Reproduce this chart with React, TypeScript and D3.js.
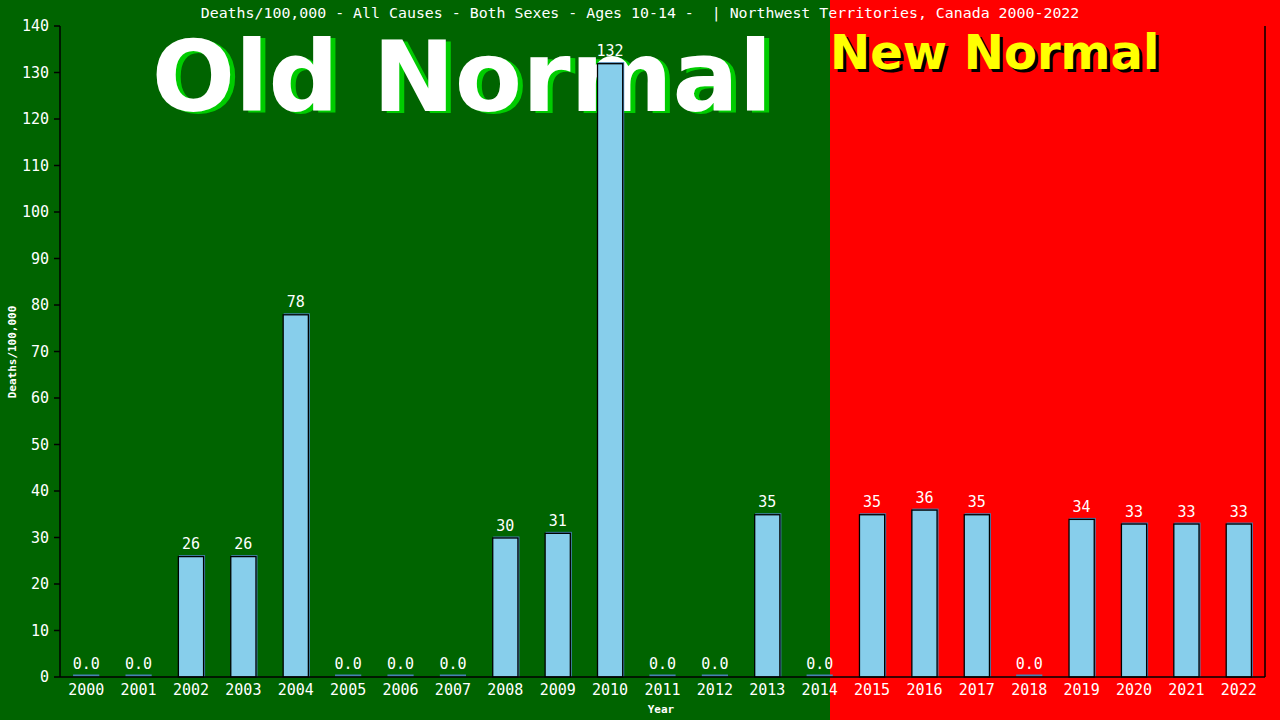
import * as d3 from "d3";

const years = [
  "2000", "2001", "2002", "2003", "2004", "2005", "2006", "2007", "2008", "2009", "2010", "2011",
  "2012", "2013", "2014", "2015", "2016", "2017", "2018", "2019", "2020", "2021", "2022",
];
const deaths = [0, 0, 26, 26, 78, 0, 0, 0, 30, 31, 132, 0, 0, 35, 0, 35, 36, 35, 0, 34, 33, 33, 33];
const yTicks = [0, 10, 20, 30, 40, 50, 60, 70, 80, 90, 100, 110, 120, 130, 140];

const W = 1280;
const H = 720;
const left = 60;
const right = 1265;
const top = 26;
const bottom = 677;
const split = 830;
const mono = "'DejaVu Sans Mono', monospace";
const sans = "'DejaVu Sans', sans-serif";

export default function App() {
  const x = d3.scaleBand<string>().domain(years).range([left, right]).paddingInner(0.5).paddingOuter(0.25);
  const y = d3.scaleLinear().domain([0, 140]).range([bottom, top]);
  const bw = x.bandwidth();

  return (
    <svg width={W} height={H} style={{ position: "absolute", left: 0, top: 0 }}>
      <rect x={0} y={0} width={split} height={H} fill="#006400" />
      <rect x={split} y={0} width={W - split} height={H} fill="#ff0000" />

      {/* big labels */}
      <text x={467} y={113} textAnchor="middle" fontFamily={sans} fontWeight="bold" fontSize={98} fill="#00cc00">
        Old Normal
      </text>
      <text x={462} y={111} textAnchor="middle" fontFamily={sans} fontWeight="bold" fontSize={98} fill="#ffffff">
        Old Normal
      </text>
      <text x={833} y={72} fontFamily={sans} fontWeight="bold" fontSize={48} fill="#000000">
        New Normal
      </text>
      <text x={830} y={69} fontFamily={sans} fontWeight="bold" fontSize={48} fill="#ffff00">
        New Normal
      </text>

      <text x={640} y={18} textAnchor="middle" fontFamily={mono} fontSize={14.9} fill="#ffffff" style={{ whiteSpace: "pre" }}>
        {"Deaths/100,000 - All Causes - Both Sexes - Ages 10-14 -  | Northwest Territories, Canada 2000-2022"}
      </text>

      {/* bars */}
      {years.map((yr, i) => {
        const v = deaths[i];
        const bx = x(yr) ?? 0;
        const cx = bx + bw / 2;
        if (v === 0) {
          return (
            <g key={yr}>
              <line x1={bx} x2={bx + bw} y1={bottom - 1.5} y2={bottom - 1.5} stroke="#4682b4" strokeWidth={2} />
              <text x={cx} y={bottom - 8} textAnchor="middle" fontFamily={mono} fontSize={15} fill="#ffffff">
                0.0
              </text>
            </g>
          );
        }
        const by = y(v);
        return (
          <g key={yr}>
            <rect x={bx + 1} y={by - 1} width={bw} height={bottom - by + 1} fill="#4682b4" />
            <rect x={bx + 0.5} y={by + 0.5} width={bw - 1} height={bottom - by - 0.5} fill="#87ceeb" stroke="#000000" strokeWidth={1.3} />
            <text x={cx} y={by - 7} textAnchor="middle" fontFamily={mono} fontSize={15} fill="#ffffff">
              {v}
            </text>
          </g>
        );
      })}

      {/* axes */}
      <line x1={left} x2={left} y1={top} y2={bottom} stroke="#000" strokeWidth={1.5} />
      <line x1={right} x2={right} y1={top} y2={bottom} stroke="#000" strokeWidth={1.5} />
      <line x1={left} x2={right} y1={bottom} y2={bottom} stroke="#000" strokeWidth={1.5} />
      {yTicks.map((t) => (
        <g key={t}>
          <line x1={left - 6} x2={left} y1={y(t)} y2={y(t)} stroke="#000" strokeWidth={1.5} />
          <text x={left - 11} y={y(t) + 5} textAnchor="end" fontFamily={mono} fontSize={15} fill="#ffffff">
            {t}
          </text>
        </g>
      ))}
      {years.map((yr) => (
        <text key={yr} x={(x(yr) ?? 0) + bw / 2} y={bottom + 18} textAnchor="middle" fontFamily={mono} fontSize={15} fill="#ffffff">
          {yr}
        </text>
      ))}
      <text x={661} y={713} textAnchor="middle" fontFamily={mono} fontWeight="bold" fontSize={11} fill="#ffffff">
        Year
      </text>
      <text
        transform="translate(16,352) rotate(-90)"
        textAnchor="middle"
        fontFamily={mono}
        fontWeight="bold"
        fontSize={11}
        fill="#ffffff"
      >
        Deaths/100,000
      </text>
    </svg>
  );
}
